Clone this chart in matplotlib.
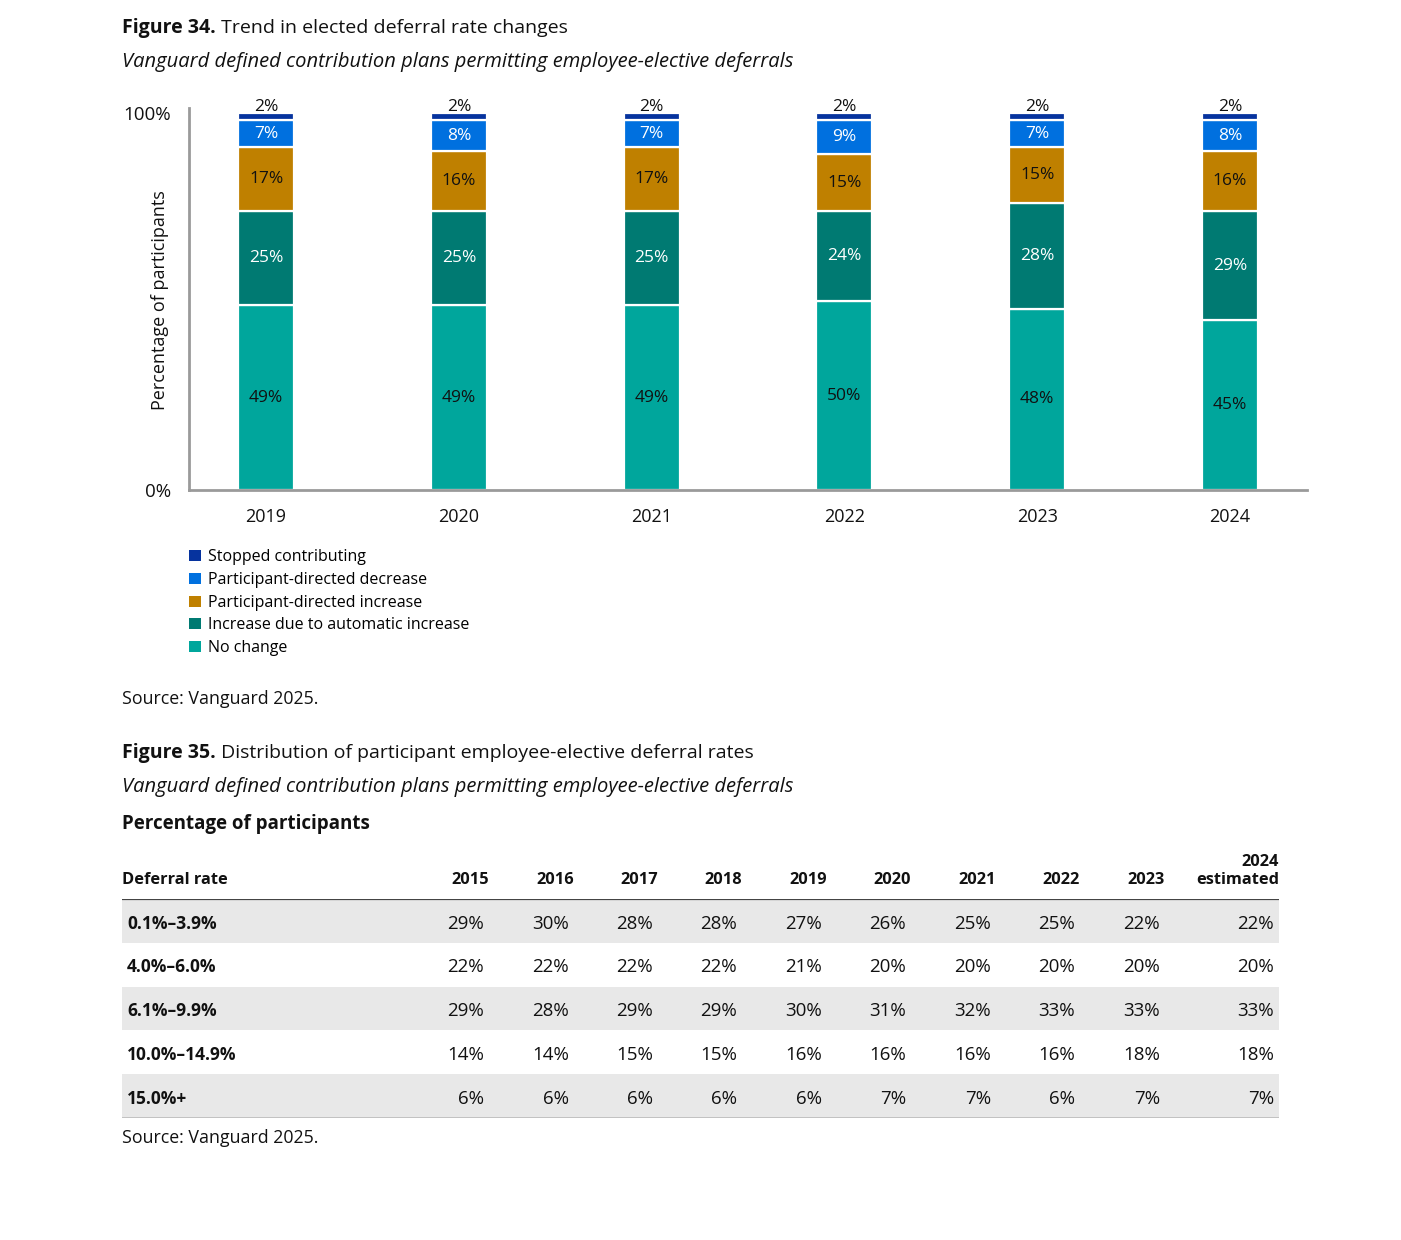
import matplotlib
matplotlib.use("Agg")
import matplotlib.pyplot as plt
from matplotlib.text import Annotation
import numpy as np

plt.rcParams["font.family"] = ["Open Sans", "DejaVu Sans"]

# ---- Figure 34 data ----
years = ["2019", "2020", "2021", "2022", "2023", "2024"]
no_change = [49, 49, 49, 50, 48, 45]
auto_increase = [25, 25, 25, 24, 28, 29]
pd_increase = [17, 16, 17, 15, 15, 16]
pd_decrease = [7, 8, 7, 9, 7, 8]
stopped = [2, 2, 2, 2, 2, 2]

series_names = ["No change", "Increase due to automatic increase",
                "Participant-directed increase", "Participant-directed decrease",
                "Stopped contributing"]
series_vals = [no_change, auto_increase, pd_increase, pd_decrease, stopped]
series_colors = ["#00A69C", "#007A72", "#BF8000", "#0070DF", "#06339E"]
label_colors = ["#111111", "white", "#111111", "white", "#111111"]

# ---- Figure 35 data ----
table_years = ["2015", "2016", "2017", "2018", "2019", "2020", "2021", "2022", "2023", "2024\nestimated"]
deferral_rates = ["0.1%–3.9%", "4.0%–6.0%", "6.1%–9.9%", "10.0%–14.9%", "15.0%+"]
table_vals = [
    [29, 30, 28, 28, 27, 26, 25, 25, 22, 22],
    [22, 22, 22, 22, 21, 20, 20, 20, 20, 20],
    [29, 28, 29, 29, 30, 31, 32, 33, 33, 33],
    [14, 14, 15, 15, 16, 16, 16, 16, 18, 18],
    [6, 6, 6, 6, 6, 7, 7, 6, 7, 7],
]

W, H = 1401, 1240
fig = plt.figure(figsize=(W / 100, H / 100), dpi=100)
INK = "#111111"


def fx(x):
    return x / W


def fy(y):
    return 1 - y / H


# titles (bold "Figure NN." followed by regular text)
for (y, b, r) in [(28, "Figure 34.", "Trend in elected deferral rate changes"),
                  (753, "Figure 35.", "Distribution of participant employee-elective deferral rates")]:
    t = fig.text(fx(122), fy(y), b, fontsize=14, fontweight="bold", va="center", color=INK)
    fig.add_artist(Annotation(" " + r, xy=(1, 0.5), xycoords=t, va="center", ha="left",
                              fontsize=14, color=INK, annotation_clip=False))

for y in (62, 787):
    fig.text(fx(122), fy(y), "Vanguard defined contribution plans permitting employee-elective deferrals",
             fontsize=14.5, style="italic", va="center", color=INK)

fig.text(fx(122), fy(699), "Source: Vanguard 2025.", fontsize=12.8, va="center", color=INK)
fig.text(fx(122), fy(1138), "Source: Vanguard 2025.", fontsize=12.8, va="center", color=INK)
fig.text(fx(122), fy(824), "Percentage of participants", fontsize=13.5, fontweight="bold",
         va="center", color=INK)

# ---- bar chart ----
ax = fig.add_axes([fx(189), fy(490), fx(1307) - fx(189), (490 - 108) / H])
x = np.arange(len(years))
bottom = np.zeros(len(years))
handles = []
for name, vals, col, lc in zip(series_names, series_vals, series_colors, label_colors):
    vals = np.array(vals, dtype=float)
    bars = ax.bar(x, vals, 0.29, bottom=bottom, color=col, edgecolor="white",
                  linewidth=1.6, label=name, zorder=2)
    handles.append(bars)
    for xi, b, v in zip(x, bottom, vals):
        if name == "Stopped contributing":
            ax.text(xi, b + v - 0.5, f"{int(v)}%", ha="center", va="bottom", fontsize=12.5,
                    color=lc, clip_on=False)
        else:
            ax.text(xi, b + v / 2, f"{int(v)}%", ha="center", va="center", fontsize=12.5, color=lc)
    bottom += vals

ax.set_xlim(-0.4, len(years) - 0.6)
ax.set_ylim(0, 101.3)
ax.set_yticks([0, 100])
ax.set_yticklabels(["0%", "100%"], fontsize=13.5, color=INK)
ax.set_xticks(x)
ax.set_xticklabels(years, fontsize=13, color=INK)
ax.tick_params(axis="y", length=0, pad=13)
ax.tick_params(axis="x", length=0, pad=13)
for s in ("top", "right"):
    ax.spines[s].set_visible(False)
for s in ("left", "bottom"):
    ax.spines[s].set_color("#9a9a9a")
    ax.spines[s].set_linewidth(2)
    ax.spines[s].set_zorder(3)
fig.text(fx(160), fy(300), "Percentage of participants", rotation=90, fontsize=13,
         ha="center", va="center", color=INK)

leg = fig.legend(handles[::-1], series_names[::-1], loc="upper left",
                 bbox_to_anchor=(fx(175), fy(535)), frameon=False, fontsize=11.5,
                 handlelength=0.7, handleheight=0.7, handletextpad=0.45,
                 labelspacing=0.42)
for h in leg.legend_handles:
    h.set_edgecolor("none")

# ---- table ----
col_right = [489, 574, 658, 742, 827, 911, 996, 1080, 1165, 1279]
tx = fig.add_axes([fx(122), fy(1118), fx(1279) - fx(122), (1118 - 899) / H])
tx.set_xlim(122, 1279)
tx.set_ylim(len(deferral_rates), 0)
tx.axis("off")
for i in range(len(deferral_rates)):
    if i % 2 == 0:
        tx.axhspan(i, i + 1, color="#E8E8E8", lw=0, zorder=0)
tx.axhline(0, color="#444444", lw=1.6, zorder=2)
tx.axhline(len(deferral_rates), color="#BBBBBB", lw=1.2, zorder=2)

tx.text(122, -0.35, "Deferral rate", fontsize=11.8, fontweight="bold", ha="left", va="baseline",
        color=INK, clip_on=False)
for cx, yr in zip(col_right, table_years):
    tx.text(cx, -0.35, yr, fontsize=11.8, fontweight="bold", ha="right", va="baseline",
            color=INK, clip_on=False, linespacing=1.15, multialignment="right")

for i, (rate, row) in enumerate(zip(deferral_rates, table_vals)):
    tx.text(127, i + 0.56, rate, fontsize=12.5, fontweight="bold", ha="left", va="center",
            color=INK)
    for cx, v in zip(col_right, row):
        tx.text(cx - 5, i + 0.56, f"{v}%", fontsize=13.5, ha="right", va="center", color=INK)

fig.savefig("out.png", dpi=100)
